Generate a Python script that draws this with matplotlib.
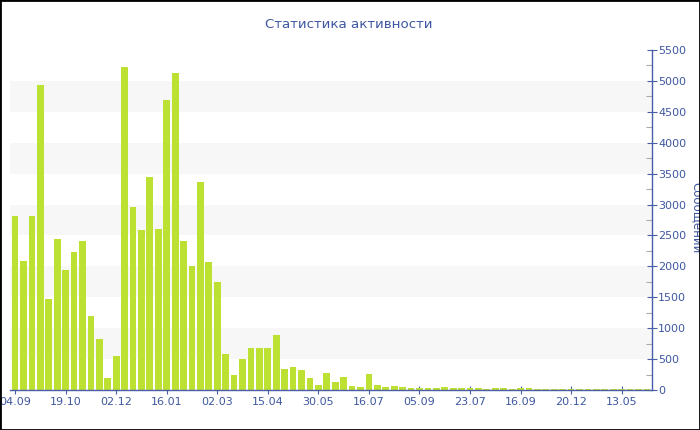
import numpy as np
import matplotlib
matplotlib.use("Agg")
import matplotlib.pyplot as plt
from matplotlib.ticker import MultipleLocator

title = "Статистика активности"
y_label = "Сообщений"

values = [2810, 2080, 2810, 4930, 1480, 2440, 1940, 2230, 2410, 1190,
          825, 200, 555, 5230, 2960, 2590, 3440, 2600, 4690, 5120,
          2410, 2000, 3360, 2070, 1740, 575, 250, 500, 680, 680,
          680, 890, 335, 370, 320, 190, 80, 275, 135, 210,
          65, 43, 255, 76, 49, 65, 49, 27, 38, 38,
          32, 49, 32, 32, 32, 32, 22, 27, 38, 22,
          27, 32, 16, 16, 16, 18, 15, 16, 20, 16,
          16, 15, 18, 16, 16, 15]

tick_labels = ["04.09", "19.10", "02.12", "16.01", "02.03", "15.04", "30.05",
               "16.07", "05.09", "23.07", "16.09", "20.12", "13.05"]
tick_step = 6

bar_color = "#bde133"
axis_color = "#4a5ea8"
text_color = "#3e57a0"
band_color = "#f7f7f7"

fig = plt.figure(figsize=(7.0, 4.3), dpi=100)
ax = fig.add_axes([10/700, 1-390/430, 642/700, 340/430])

x = np.arange(len(values))
ymax = 5500
for lo in range(500, ymax, 1000):
    ax.axhspan(lo, lo + 500, color=band_color, zorder=0, lw=0)

ax.bar(x, values, width=0.8, color=bar_color, linewidth=0, zorder=2)

ax.set_xlim(-0.6, len(values) - 0.4)
ax.set_ylim(0, ymax)

ax.set_xticks(x[::tick_step][:len(tick_labels)])
ax.set_xticklabels(tick_labels)

ax.yaxis.tick_right()
ax.yaxis.set_major_locator(MultipleLocator(500))
ax.yaxis.set_minor_locator(MultipleLocator(250))

for s in ["top", "left"]:
    ax.spines[s].set_visible(False)
for s in ["bottom", "right"]:
    ax.spines[s].set_color(axis_color)
    ax.spines[s].set_linewidth(1.0)

ax.tick_params(axis="x", labelcolor=text_color, labelsize=8, direction="inout", length=6, width=0.8, color=axis_color, pad=2)
ax.tick_params(axis="y", which="major", labelcolor=text_color, labelsize=8, direction="inout", length=7, width=0.8, color=axis_color, pad=1)
ax.tick_params(axis="y", which="minor", direction="in", length=4, width=0.8, color="#aaaaaa")
ax.tick_params(axis="y", left=False, labelleft=False)

fig.text(349/700, 1-25/430, title, ha="center", va="center", fontsize=9.6, color=text_color)
fig.text(697/700, 1-218/430, y_label, ha="center", va="center", rotation=270, fontsize=8.5, color=text_color)

# figure border
fig.patches.append(plt.Rectangle((0, 0), 1, 1, transform=fig.transFigure, fill=False,
                                 edgecolor="black", linewidth=2, zorder=10))

fig.savefig("out.png", dpi=100)
